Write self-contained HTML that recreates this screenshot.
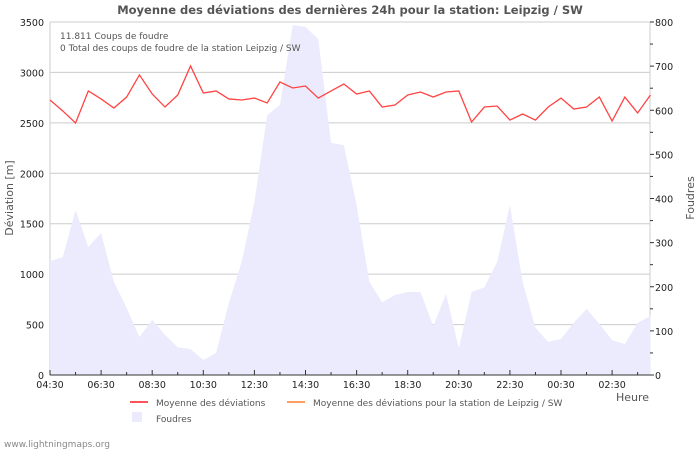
<!DOCTYPE html>
<html><head><meta charset="utf-8"><style>
body{margin:0;background:#fff;}
svg{display:block;font-family:"DejaVu Sans","Liberation Sans",sans-serif;}
</style></head><body>
<svg id="chart" width="700" height="450" viewBox="0 0 700 450">
<text x="350" y="14" text-anchor="middle" font-size="11.5" font-weight="bold" fill="#555">Moyenne des déviations des dernières 24h pour la station: Leipzig / SW</text>
<g id="grid"></g>
<g id="area"></g>
<g id="line"></g>
<g id="axes"></g>
<text x="60" y="39" font-size="9" fill="#555">11.811  Coups de foudre</text>
<text x="60" y="51" font-size="9" fill="#555">0 Total des coups de foudre de la station Leipzig / SW</text>
<text transform="translate(13,198) rotate(-90)" text-anchor="middle" font-size="11" fill="#555">Déviation  [m]</text>
<text transform="translate(694,198) rotate(-90)" text-anchor="middle" font-size="11" fill="#555">Foudres</text>
<text x="616" y="401" font-size="11" fill="#555">Heure</text>
<g>
<line x1="130" y1="402" x2="148" y2="402" stroke="#ff5555" stroke-width="2"/>
<text x="156" y="406" font-size="9" fill="#555">Moyenne des déviations</text>
<line x1="287" y1="402" x2="305" y2="402" stroke="#ffa060" stroke-width="2"/>
<text x="313" y="406" font-size="9" fill="#555">Moyenne des déviations pour la station de Leipzig / SW</text>
<rect x="132" y="412" width="10" height="10" fill="#ebebfd"/>
<text x="156" y="422" font-size="9" fill="#555">Foudres</text>
</g>
<text x="4" y="447" font-size="9" fill="#888">www.lightningmaps.org</text>
</svg>
<script>
const xLabels = ["04:30","06:30","08:30","10:30","12:30","14:30","16:30","18:30","20:30","22:30","00:30","02:30"];
const leftTicks = [0,500,1000,1500,2000,2500,3000,3500];
const rightTicks = [0,100,200,300,400,500,600,700,800];
const deviation = [2727,2618,2499,2816,2737,2647,2756,2975,2786,2657,2776,3064,2796,2816,2737,2727,2746,2697,2905,2846,2865,2746,2816,2885,2786,2816,2657,2677,2776,2806,2756,2806,2816,2508,2657,2667,2528,2588,2528,2657,2746,2637,2657,2756,2518,2756,2598,2776];
const strikes = [258,267,374,290,322,211,152,86,125,91,63,59,34,50,163,256,392,589,612,793,789,761,526,521,385,211,165,181,188,188,111,184,61,188,199,256,385,211,107,75,82,118,150,116,79,70,118,134];

const NS="http://www.w3.org/2000/svg";
const X0=50,X1=650,Y0=375,Y1=22,PXH=25.55;
const xOf=i=>X0+i*PXH/2;
const yL=v=>Y0-(v/3500)*(Y0-Y1);
const yR=v=>Y0-(v/800)*(Y0-Y1);
function mk(tag,attrs,parent){const e=document.createElementNS(NS,tag);for(const k in attrs)e.setAttribute(k,attrs[k]);parent.appendChild(e);return e;}
const grid=document.getElementById('grid'),axes=document.getElementById('axes');
mk('rect',{x:X0,y:Y1,width:X1-X0,height:Y0-Y1,fill:'none',stroke:'#ccc'},grid);
leftTicks.forEach(v=>{
  const l=mk('line',{x1:X0,x2:X1,y1:yL(v),y2:yL(v),stroke:'#ccc'},grid);
  
  
  const t=mk('text',{x:X0-6,y:yL(v)+4,'text-anchor':'end','font-size':'9.5',fill:'#222'},axes);
  t.textContent=v;
  
  
});
rightTicks.forEach(v=>{
  const t=mk('text',{x:X1+5,y:yR(v)+4,'font-size':'9.5',fill:'#222'},axes);
  t.textContent=v;
  
  
});
for(let v=0;v<=800;v+=50){mk('line',{x1:X1,x2:X1+(v%100?3:4),y1:yR(v),y2:yR(v),stroke:'#333'},axes);}
for(let h=0;h<=23;h++){const x=X0+h*PXH;mk('line',{x1:x,x2:x,y1:Y0,y2:Y0-(h%2?3:5),stroke:'#333'},axes);}
xLabels.forEach((s,k)=>{
  const t=mk('text',{x:X0+k*2*PXH,y:Y0+13,'text-anchor':'middle','font-size':'9.5',fill:'#222'},axes);
  t.textContent=s;
  
  
});
mk('line',{x1:X0,x2:X1,y1:Y0,y2:Y0,stroke:'#333'},axes);
let d='M'+xOf(0)+','+Y0;
strikes.forEach((v,i)=>{d+=' L'+xOf(i)+','+yR(v);});
d+=' L'+xOf(strikes.length-1)+','+Y0+' Z';
const a=mk('path',{d:d,fill:'#ebebfd'},document.getElementById('area'));


const p=mk('polyline',{points:deviation.map((v,i)=>xOf(i)+','+yL(v)).join(' '),fill:'none',stroke:'#ff4444','stroke-width':'1.3'},document.getElementById('line'));


</script>
</body></html>
